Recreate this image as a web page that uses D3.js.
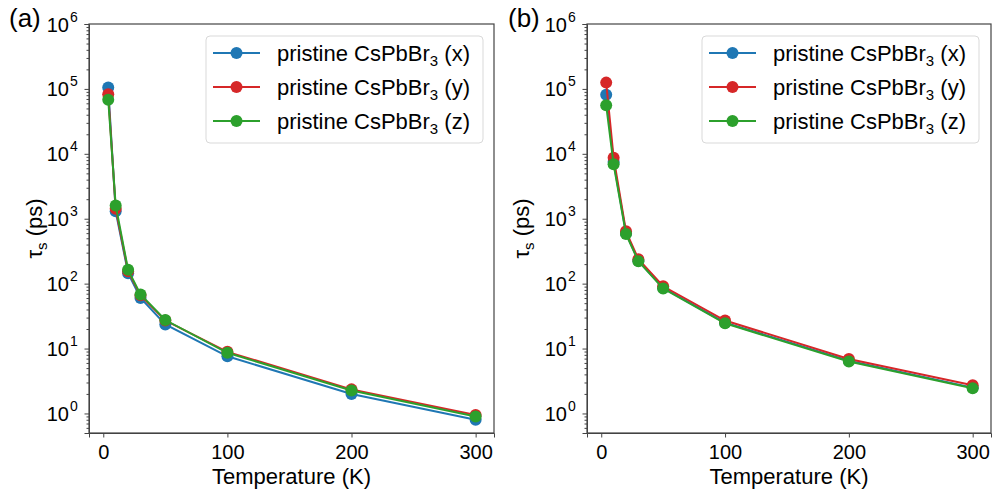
<!DOCTYPE html>
<html>
<head>
<meta charset="utf-8">
<script src="https://cdn.jsdelivr.net/npm/d3@7"></script>
<style>
	body { margin: 0; background: #fff; }
	svg { font-family: "Liberation Sans", Arial, sans-serif; }
	.domain, .tick line { stroke: #444; }
</style>
</head>
<body>
<svg id="svg"></svg>
<script>
const temps = [4, 10, 20, 30, 50, 100, 200, 300];

// panel (a)
const tauAx = [105000, 1300, 145, 60, 23.5, 7.6, 2.0, 0.8];
const tauAy = [83000, 1420, 155, 66, 27, 8.9, 2.35, 0.95];
const tauAz = [68000, 1600, 163, 68, 27.5, 8.6, 2.26, 0.9];

// panel (b)
const tauBx = [81000, 7500, 600, 225, 86, 25, 6.5, 2.5];
const tauBy = [125000, 8700, 640, 238, 91, 27, 6.9, 2.72];
const tauBz = [56000, 6900, 580, 222, 84, 24.5, 6.3, 2.45];

const seriesNames = ['x', 'y', 'z'];
const seriesColors = ['#1f77b4', '#d62728', '#2ca02c'];
const yTicks = [1, 10, 100, 1000, 10000, 100000, 1000000];
const xTicks = [0, 100, 200, 300];

const svg = d3.select('#svg').attr('width', 996).attr('height', 491);

const panels = [
	{ label: '(a)', left: 89, right: 494, series: [tauAx, tauAy, tauAz], labelX: 9, yLabelX: 42, legendX: 206 },
	{ label: '(b)', left: 587, right: 991, series: [tauBx, tauBy, tauBz], labelX: 508, yLabelX: 529, legendX: 702 }
];

const plotTop = 24, plotBottom = 433;

panels.forEach(p => drawPanel(p));

function drawPanel(p) {
	const x = d3.scaleLinear().domain([-11.5, 314.8]).range([p.left, p.right]);
	const y = d3.scaleLog().domain([0.5, 1e6]).range([plotBottom, plotTop]);

	const g = svg.append('g');

	// minor ticks on the log axis
	const minors = [];
	for (let e = -1; e < 6; e++)
		for (let m = 2; m <= 9; m++) {
			const v = m * Math.pow(10, e);
			if (v >= 0.5 && v <= 1e6) minors.push(v);
		}
	g.append('g')
		.attr('transform', `translate(${p.left},0)`)
		.call(d3.axisLeft(y).tickValues(minors).tickSize(2.5).tickFormat(''))
		.call(a => a.select('.domain').remove());

	// major y ticks, labels drawn with superscript
	const yAxis = g.append('g')
		.attr('transform', `translate(${p.left},0)`)
		.call(d3.axisLeft(y).tickValues(yTicks).tickSize(4.5).tickFormat(''));
	yAxis.selectAll('.tick').append('text')
		.attr('x', -20)
		.attr('y', 7)
		.attr('fill', '#000')
		.attr('text-anchor', 'end')
		.attr('font-size', 20)
		.text('10');
	yAxis.selectAll('.tick').append('text')
		.attr('x', -19)
		.attr('y', -3)
		.attr('fill', '#000')
		.attr('text-anchor', 'start')
		.attr('font-size', 14)
		.text(d => Math.round(Math.log10(d)));

	// x axis
	const xAxis = g.append('g')
		.attr('transform', `translate(0,${plotBottom})`)
		.call(d3.axisBottom(x).tickValues(xTicks).tickSize(4.5));
	xAxis.selectAll('text')
		.attr('fill', '#000')
		.attr('font-size', 20)
		.attr('font-family', '"Liberation Sans", Arial, sans-serif')
		.attr('dy', '0.9em');

	// frame
	g.append('rect')
		.attr('x', p.left)
		.attr('y', plotTop)
		.attr('width', p.right - p.left)
		.attr('height', plotBottom - plotTop)
		.attr('fill', 'none')
		.attr('stroke', '#444')
		.attr('stroke-width', 1.2);

	// lines + markers
	const line = d3.line().x((d, i) => x(temps[i])).y(d => y(d));
	p.series.forEach((vals, si) => {
		g.append('path')
			.datum(vals)
			.attr('d', line)
			.attr('fill', 'none')
			.attr('stroke', seriesColors[si])
			.attr('stroke-width', 2);
		g.selectAll(null)
			.data(vals)
			.enter()
			.append('circle')
			.attr('cx', (d, i) => x(temps[i]))
			.attr('cy', d => y(d))
			.attr('r', 6)
			.attr('fill', seriesColors[si]);
	});

	// legend
	const lg = g.append('g').attr('transform', `translate(${p.legendX},36)`);
	lg.append('rect')
		.attr('width', 277)
		.attr('height', 107)
		.attr('rx', 4)
		.attr('fill', '#fff')
		.attr('fill-opacity', 0.8)
		.attr('stroke', '#d9d9d9');
	seriesNames.forEach((name, i) => {
		const ly = 17 + i * 34;
		lg.append('line')
			.attr('x1', 7).attr('x2', 54)
			.attr('y1', ly).attr('y2', ly)
			.attr('stroke', seriesColors[i])
			.attr('stroke-width', 2);
		lg.append('circle')
			.attr('cx', 30.5).attr('cy', ly).attr('r', 6)
			.attr('fill', seriesColors[i]);
		const t = lg.append('text')
			.attr('x', 71)
			.attr('y', ly + 7.5)
			.attr('font-size', 22)
			.attr('fill', '#000');
		t.append('tspan').text('pristine CsPbBr');
		t.append('tspan').attr('dy', 5).attr('font-size', 15).text('3');
		t.append('tspan').attr('dy', -5).text(` (${name})`);
	});

	// axis labels
	g.append('text')
		.attr('x', (p.left + p.right) / 2)
		.attr('y', 484)
		.attr('text-anchor', 'middle')
		.attr('font-size', 22)
		.attr('fill', '#000')
		.text('Temperature (K)');

	const yl = g.append('text')
		.attr('transform', `translate(${p.yLabelX},${(plotTop + plotBottom) / 2}) rotate(-90)`)
		.attr('text-anchor', 'middle')
		.attr('font-size', 22)
		.attr('fill', '#000');
	yl.append('tspan').text('τ');
	yl.append('tspan').attr('dy', 5).attr('font-size', 15).text('s');
	yl.append('tspan').attr('dy', -5).text(' (ps)');

	// panel label
	svg.append('text')
		.attr('x', p.labelX)
		.attr('y', 27)
		.attr('font-size', 26)
		.attr('fill', '#000')
		.text(p.label);
}
</script>
</body>
</html>
